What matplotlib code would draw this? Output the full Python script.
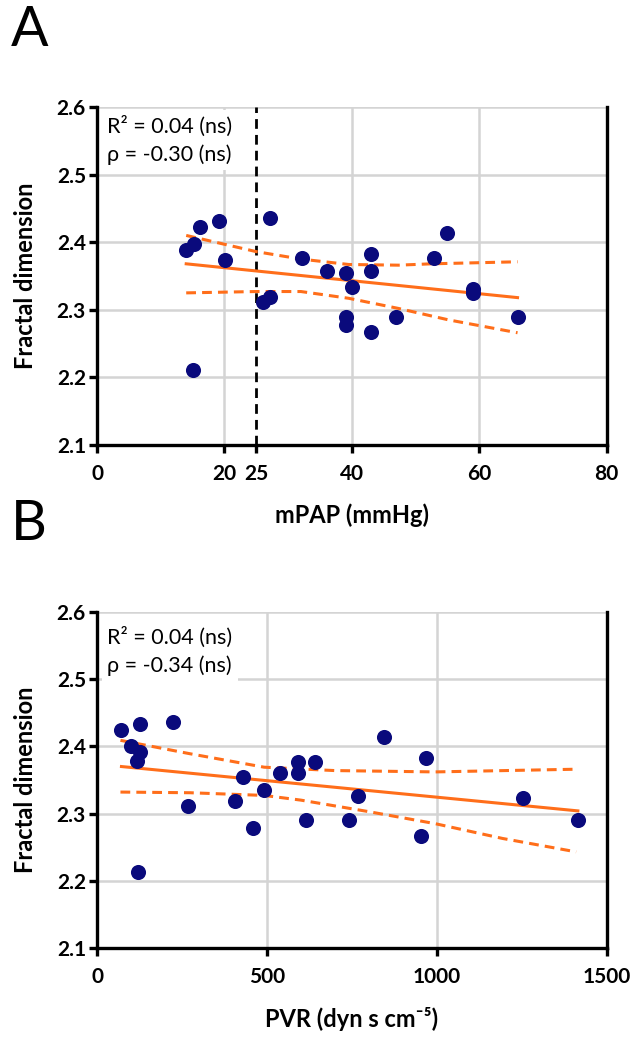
import matplotlib
matplotlib.use("Agg")
import matplotlib.pyplot as plt

plt.rcParams['font.family'] = ['Lato', 'DejaVu Sans']

# panel A: fractal dimension vs mPAP
mpap = [14.0, 15.2, 16.1, 19.1, 20.1, 15.1, 26.0, 27.1, 27.1, 32.2, 36.1, 39.1,
        40.0, 39.1, 39.1, 43.0, 43.0, 43.0, 46.9, 52.9, 55.0, 59.0, 59.0, 66.0]
fd_a = [2.389, 2.398, 2.422, 2.431, 2.374, 2.211, 2.311, 2.319, 2.436, 2.376, 2.358, 2.354,
        2.333, 2.290, 2.277, 2.382, 2.357, 2.267, 2.289, 2.376, 2.413, 2.325, 2.330, 2.289]
fit_a_x = [14, 66]
fit_a_y = [2.368, 2.318]
ci_hi_a_x = [14, 25, 32, 39.5, 47.3, 52.5, 66]
ci_hi_a_y = [2.410, 2.386, 2.375, 2.367, 2.366, 2.368, 2.371]
ci_lo_a_x = [14, 25, 32, 39.5, 47.3, 55.2, 66]
ci_lo_a_y = [2.325, 2.327, 2.327, 2.317, 2.302, 2.285, 2.266]

# panel B: fractal dimension vs PVR
pvr = [72, 128, 223, 99, 126, 117, 120, 269, 406, 431, 460, 492,
       539, 592, 592, 642, 615, 768, 743, 845, 967, 953, 1254, 1415]
fd_b = [2.424, 2.433, 2.437, 2.401, 2.392, 2.378, 2.213, 2.311, 2.319, 2.355, 2.279, 2.335,
        2.360, 2.377, 2.360, 2.377, 2.291, 2.326, 2.290, 2.414, 2.383, 2.267, 2.323, 2.290]
fit_b_x = [72, 1415]
fit_b_y = [2.370, 2.304]
ci_hi_b_x = [69, 274, 492, 699, 995, 1410]
ci_hi_b_y = [2.409, 2.389, 2.369, 2.364, 2.362, 2.366]
ci_lo_b_x = [69, 274, 492, 600, 798, 995, 1193, 1410]
ci_lo_b_y = [2.332, 2.331, 2.327, 2.320, 2.303, 2.285, 2.263, 2.243]

yticks = [2.1, 2.2, 2.3, 2.4, 2.5, 2.6]
NAVY = '#0a0a7c'
ORANGE = '#ff6e1a'
GRID = '#d4d4d4'


def style_axes(ax, xlim, xticks, xticklabels, xgrid):
    ax.set_xlim(*xlim)
    ax.set_ylim(2.1, 2.6)
    ax.set_xticks(xticks)
    ax.set_xticklabels(xticklabels)
    ax.set_yticks(yticks)
    ax.set_yticklabels(['%.1f' % v for v in yticks])
    for v in xgrid:
        ax.axvline(v, color=GRID, lw=1.8, zorder=0)
    for v in yticks[1:]:
        ax.axhline(v, color=GRID, lw=1.8, zorder=0)
    ax.spines['top'].set_visible(False)
    for s in ['left', 'bottom', 'right']:
        ax.spines[s].set_linewidth(2.4)
        ax.spines[s].set_color('black')
    ax.tick_params(direction='out', length=6, width=2.4, labelsize=15, right=False, top=False)
    ax.tick_params(axis='x', pad=8)
    ax.tick_params(axis='y', pad=2)
    for lab in ax.get_xticklabels() + ax.get_yticklabels():
        lab.set_fontweight('bold')
    ax.set_ylabel('Fractal dimension', fontsize=17, fontweight='bold', labelpad=14)


def draw_fit(ax, x, y, fx, fy, hx, hy, lx, ly):
    ax.plot(fx, fy, color=ORANGE, lw=2.2, zorder=2)
    ax.plot(hx, hy, color=ORANGE, lw=2.2, dashes=(3.2, 2.0), zorder=2)
    ax.plot(lx, ly, color=ORANGE, lw=2.2, dashes=(3.2, 2.0), zorder=2)
    ax.scatter(x, y, s=118, color=NAVY, zorder=3, linewidths=0)


fig = plt.figure(figsize=(6.34, 10.44), dpi=100)
ax1 = fig.add_axes([0.153, 0.5738, 0.804, 0.3237])
ax2 = fig.add_axes([0.153, 0.0920, 0.804, 0.3218])

style_axes(ax1, (0, 80), [0, 20, 25, 40, 60, 80], ['0', '20', '25', '40', '60', '80'], [20, 40, 60])
ax1.axvline(25, color='black', lw=2.0, dashes=(3.5, 2.2), zorder=1)
draw_fit(ax1, mpap, fd_a, fit_a_x, fit_a_y, ci_hi_a_x, ci_hi_a_y, ci_lo_a_x, ci_lo_a_y)
ax1.set_xlabel('mPAP (mmHg)', fontsize=17, fontweight='bold', labelpad=14)
ax1.text(0.02, 0.975, 'R² = 0.04 (ns)\nρ = -0.30 (ns)', transform=ax1.transAxes,
         ha='left', va='top', fontsize=15.5, linespacing=1.45, zorder=4,
         bbox=dict(facecolor='white', edgecolor='none', boxstyle='square,pad=0.25'))

style_axes(ax2, (0, 1500), [0, 500, 1000, 1500], ['0', '500', '1000', '1500'], [500, 1000])
draw_fit(ax2, pvr, fd_b, fit_b_x, fit_b_y, ci_hi_b_x, ci_hi_b_y, ci_lo_b_x, ci_lo_b_y)
ax2.set_xlabel('PVR (dyn s cm⁻⁵)', fontsize=17, fontweight='bold', labelpad=14)
ax2.text(0.02, 0.955, 'R² = 0.04 (ns)\nρ = -0.34 (ns)', transform=ax2.transAxes,
         ha='left', va='top', fontsize=15.5, linespacing=1.45, zorder=4,
         bbox=dict(facecolor='white', edgecolor='none', boxstyle='square,pad=0.25'))

fig.text(0.017, 0.995, 'A', fontsize=40, ha='left', va='top')
fig.text(0.017, 0.522, 'B', fontsize=40, ha='left', va='top')

fig.savefig('out.png', dpi=100)
